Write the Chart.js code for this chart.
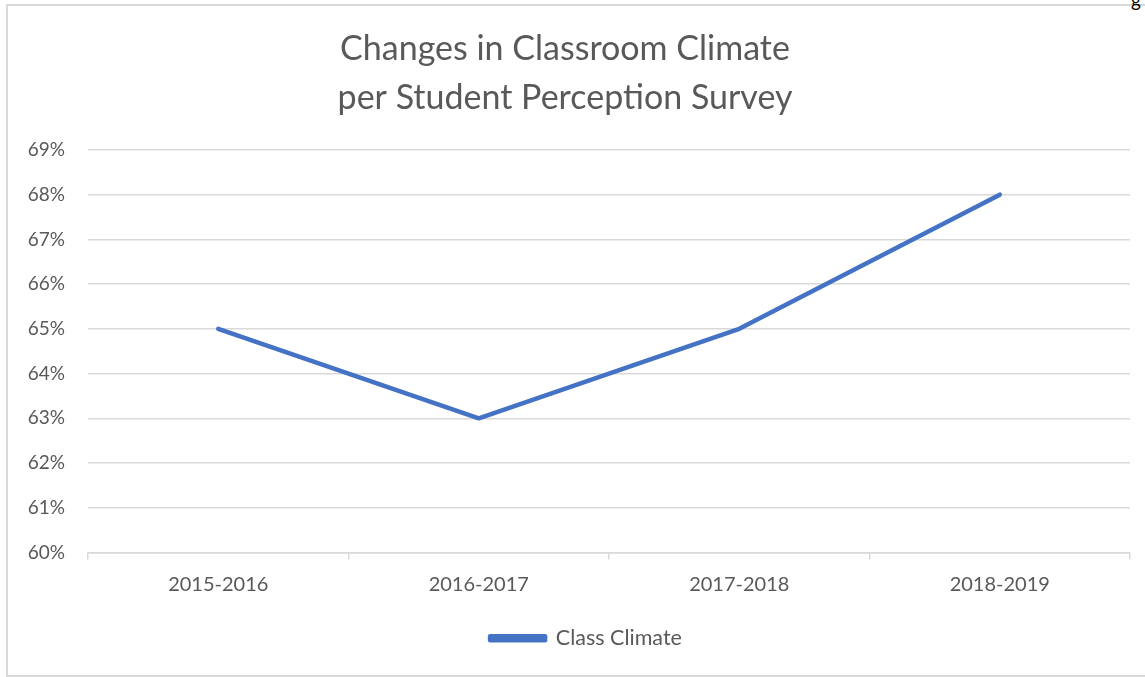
<!DOCTYPE html>
<html>
<head>
<meta charset="utf-8">
<script src="https://cdn.jsdelivr.net/npm/chart.js@4/dist/chart.umd.min.js"></script>
<style>
html,body{margin:0;padding:0;background:#fff;}
#frame{position:absolute;left:6px;top:4px;width:1200px;height:673px;border:2px solid #d9d9d9;box-sizing:border-box;}
#wrap{position:absolute;left:0;top:0;width:1145px;height:677px;}
#frag{position:absolute;left:1131px;top:-12px;font-family:Lato,sans-serif;font-size:19px;color:#000;}
</style>
</head>
<body>
<div id="frame"></div>
<div id="frag">g</div>
<div id="wrap"><canvas id="c" width="1145" height="677"></canvas></div>
<script>
const categories = ['2015-2016', '2016-2017', '2017-2018', '2018-2019'];
const classClimate = [65, 63, 65, 68];
const seriesName = 'Class Climate';
const titleLines = ['Changes in Classroom Climate', 'per Student Perception Survey'];
const yMin = 60, yMax = 69, yStep = 1;

const textColor = '#595959';
const fontFam = 'Lato, "Open Sans", sans-serif';

const legendShift = {
  id: 'legendShift',
  afterLayout(chart) {
    if (chart.legend) { chart.legend.left += 21; chart.legend.right += 21; }
  }
};

new Chart(document.getElementById('c'), {
  type: 'line',
  data: {
    labels: categories,
    datasets: [{
      label: seriesName,
      data: classClimate,
      borderColor: '#4472C4',
      backgroundColor: '#4472C4',
      borderWidth: 4.5,
      pointRadius: 0,
      tension: 0,
      borderCapStyle: 'round',
      borderJoinStyle: 'round'
    }]
  },
  plugins: [legendShift],
  options: {
    responsive: false,
    animation: false,
    devicePixelRatio: 1,
    layout: { padding: { left: 0, right: 15, top: 25, bottom: 18 } },
    plugins: {
      title: {
        display: true,
        text: titleLines,
        color: textColor,
        font: { family: fontFam, size: 34, weight: 'normal', lineHeight: 1.44 },
        padding: { top: 0, bottom: 27 }
      },
      legend: {
        position: 'bottom',
        labels: {
          color: textColor,
          font: { family: fontFam, size: 21.5 },
          boxWidth: 55,
          boxHeight: 4,
          padding: 16
        }
      },
      tooltip: { enabled: false }
    },
    scales: {
      x: {
        offset: true,
        afterFit: s => { s.height = 59; },
        grid: { display: true, drawOnChartArea: false, drawTicks: true, tickLength: 7, offset: true, color: '#d9d9d9', lineWidth: 1.5 },
        border: { display: true, color: '#d9d9d9', width: 1.5 },
        ticks: { color: textColor, font: { family: fontFam, size: 20 }, padding: 13, maxRotation: 0 }
      },
      y: {
        min: yMin, max: yMax,
        afterFit: s => { s.width = 88; },
        grid: { color: '#d9d9d9', lineWidth: 1.5, drawTicks: false },
        border: { display: false },
        ticks: {
          stepSize: yStep,
          color: textColor,
          font: { family: fontFam, size: 19 },
          padding: 23,
          callback: v => v + '%'
        }
      }
    }
  }
});
</script>
</body>
</html>
